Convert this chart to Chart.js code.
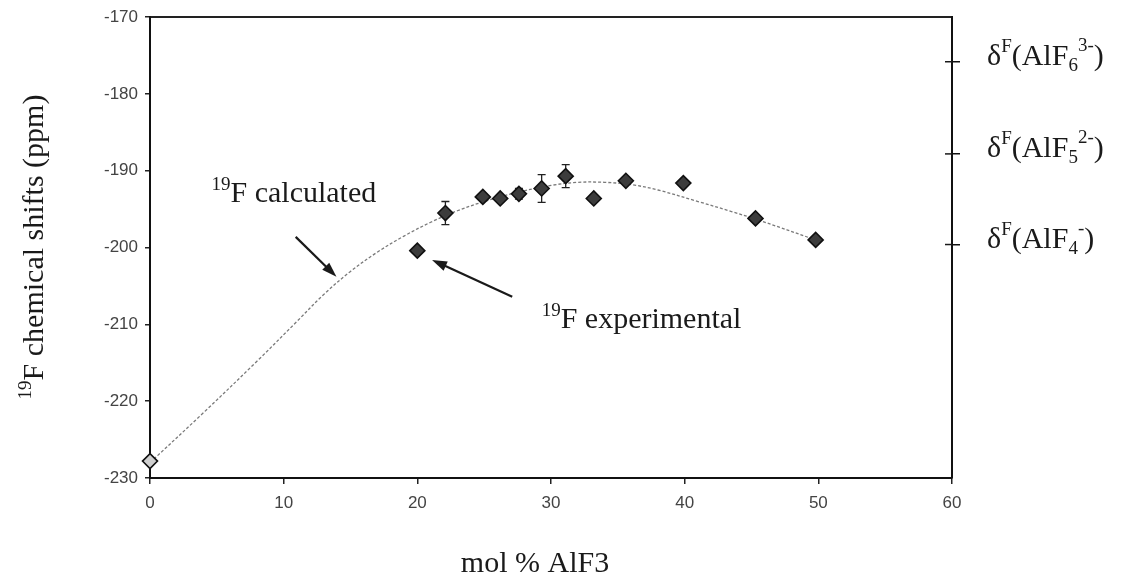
<!DOCTYPE html>
<html>
<head>
<meta charset="utf-8">
<title>19F chemical shifts vs mol % AlF3</title>
<script src="https://cdn.jsdelivr.net/npm/chart.js@4.4.1/dist/chart.umd.min.js"></script>
<style>
  html, body { margin: 0; padding: 0; background: #fff; }
  #wrap { width: 1135px; height: 580px; }
</style>
</head>
<body>
<div id="wrap"><canvas id="shiftChart" width="1135" height="580"></canvas></div>
<script>
// Experimental points (mol % AlF3 -> ppm) and error bar half-heights
const expX = [0, 20, 22.1, 24.9, 26.2, 27.6, 29.3, 31.1, 33.2, 35.6, 39.9, 45.3, 49.8];
const expY = [-227.8, -200.4, -195.5, -193.4, -193.6, -193.0, -192.3, -190.7, -193.6, -191.3, -191.6, -196.2, -199.0];
const expErr = [0, 0, 1.5, 0, 0, 0.7, 1.8, 1.5, 0, 0, 0, 0, 0];

// Calculated curve
const calcX = [0, 4, 8, 11, 13, 15, 17, 19, 21, 23, 25, 27.5, 30, 32, 34, 36, 38, 41, 43.5, 45.5, 49.8];
const calcY = [-228, -221.5, -214.8, -209.6, -206.1, -203.1, -200.6, -198.5, -196.7, -195.2, -194.0, -192.8, -191.9, -191.5, -191.5, -191.8, -192.5, -194.0, -195.3, -196.4, -199.0];

// Axis ticks
const xTicks = [0, 10, 20, 30, 40, 50, 60];
const yTicks = [-230, -220, -210, -200, -190, -180, -170];

// Reference shifts on the right axis
const refShifts = [-175.8, -187.8, -199.6];
const refSub = ['6', '5', '4'];
const refCharge = ['3-', '2-', '-'];

// Annotations (data coordinates)
const calcLabelAt = [4.6, -194.0];
const expLabelAt = [29.3, -210.5];
const calcArrow = [[10.9, -198.6], [13.95, -203.8]];
const expArrow = [[27.1, -206.4], [21.1, -201.6]];

const SERIF = "'Liberation Serif', 'Times New Roman', serif";
const SANS = "'Liberation Sans', Arial, sans-serif";

function toPoints(xs, ys) {
    return xs.map((x, i) => ({ x: x, y: ys[i] }));
}

// Draw text made of pieces with their own size and vertical shift
function richText(ctx, x, y, parts, align) {
    let total = 0;
    parts.forEach(p => {
        ctx.font = p.s + 'px ' + SERIF;
        p.w = ctx.measureText(p.t).width;
        total += p.w;
    });
    let cx = align === 'center' ? x - total / 2 : x;
    ctx.textAlign = 'left';
    ctx.textBaseline = 'alphabetic';
    parts.forEach(p => {
        ctx.font = p.s + 'px ' + SERIF;
        ctx.fillText(p.t, cx, y + (p.dy || 0));
        cx += p.w;
    });
}

function drawArrow(ctx, x1, y1, x2, y2) {
    const ang = Math.atan2(y2 - y1, x2 - x1);
    const head = 15, half = 5;
    const c = Math.cos(ang), s = Math.sin(ang);
    ctx.beginPath();
    ctx.moveTo(x1, y1);
    ctx.lineTo(x2 - head * 0.7 * c, y2 - head * 0.7 * s);
    ctx.stroke();
    ctx.beginPath();
    ctx.moveTo(x2, y2);
    ctx.lineTo(x2 - head * c + half * s, y2 - head * s - half * c);
    ctx.lineTo(x2 - head * c - half * s, y2 - head * s + half * c);
    ctx.closePath();
    ctx.fill();
}

const errorBars = {
    id: 'errorBars',
    beforeDatasetsDraw(chart) {
        const { ctx, scales: { x, y } } = chart;
        ctx.save();
        ctx.strokeStyle = '#222';
        ctx.lineWidth = 1.3;
        expX.forEach((v, i) => {
            if (!expErr[i]) return;
            const px = x.getPixelForValue(v);
            const top = y.getPixelForValue(expY[i] + expErr[i]);
            const bot = y.getPixelForValue(expY[i] - expErr[i]);
            ctx.beginPath();
            ctx.moveTo(px, top); ctx.lineTo(px, bot);
            ctx.moveTo(px - 4, top); ctx.lineTo(px + 4, top);
            ctx.moveTo(px - 4, bot); ctx.lineTo(px + 4, bot);
            ctx.stroke();
        });
        ctx.restore();
    }
};

const decorations = {
    id: 'decorations',
    afterDraw(chart) {
        const { ctx, chartArea, scales: { x, y } } = chart;
        ctx.save();
        ctx.fillStyle = '#1a1a1a';
        ctx.strokeStyle = '#1a1a1a';

        // right axis: inner half of tick marks and labels
        ctx.lineWidth = 1.5;
        refShifts.forEach((v, i) => {
            const py = y.getPixelForValue(v);
            ctx.beginPath();
            ctx.moveTo(chartArea.right - 7, py);
            ctx.lineTo(chartArea.right, py);
            ctx.stroke();
            richText(ctx, chartArea.right + 35, py + 3, [
                { t: '\u03b4', s: 30 },
                { t: 'F', s: 19, dy: -13 },
                { t: '(AlF', s: 30 },
                { t: refSub[i], s: 19, dy: 6 },
                { t: refCharge[i], s: 19, dy: -14 },
                { t: ')', s: 30 }
            ]);
        });

        // y axis title
        ctx.save();
        ctx.translate(43, 247);
        ctx.rotate(-Math.PI / 2);
        richText(ctx, 0, 0, [
            { t: '19', s: 19, dy: -12 },
            { t: 'F chemical shifts (ppm)', s: 30 }
        ], 'center');
        ctx.restore();

        // x axis title
        richText(ctx, (chartArea.left + chartArea.right) / 2 - 16, 572, [
            { t: 'mol % AlF3', s: 30 }
        ], 'center');

        // annotations
        richText(ctx, x.getPixelForValue(calcLabelAt[0]), y.getPixelForValue(calcLabelAt[1]), [
            { t: '19', s: 19, dy: -12 },
            { t: 'F calculated', s: 30 }
        ]);
        richText(ctx, x.getPixelForValue(expLabelAt[0]), y.getPixelForValue(expLabelAt[1]), [
            { t: '19', s: 19, dy: -12 },
            { t: 'F experimental', s: 30 }
        ]);

        ctx.lineWidth = 2.2;
        [calcArrow, expArrow].forEach(a => {
            drawArrow(ctx,
                x.getPixelForValue(a[0][0]), y.getPixelForValue(a[0][1]),
                x.getPixelForValue(a[1][0]), y.getPixelForValue(a[1][1]));
        });
        ctx.restore();
    }
};

const tickFont = { family: SANS, size: 17 };

new Chart(document.getElementById('shiftChart'), {
    type: 'scatter',
    data: {
        datasets: [{
            label: '19F experimental',
            data: toPoints(expX, expY),
            order: 0,
            clip: false,
            pointStyle: 'rectRot',
            pointRadius: 7.5,
            pointBackgroundColor: expX.map((v, i) => i === 0 ? '#cfcfcf' : '#3c3c3c'),
            pointBorderColor: '#111',
            pointBorderWidth: 1.6
        }, {
            label: '19F calculated',
            type: 'line',
            data: toPoints(calcX, calcY),
            order: 1,
            showLine: true,
            pointRadius: 0,
            borderColor: '#7a7a7a',
            borderWidth: 1.3,
            borderDash: [3, 2],
            tension: 0.35,
            fill: false
        }]
    },
    options: {
        responsive: false,
        animation: false,
        devicePixelRatio: 1,
        layout: { padding: 0 },
        plugins: {
            legend: { display: false },
            tooltip: { enabled: false }
        },
        scales: {
            x: {
                type: 'linear',
                position: 'bottom',
                min: 0,
                max: 60,
                afterBuildTicks: s => { s.ticks = xTicks.map(v => ({ value: v })); },
                afterFit: s => { s.height = 102; },
                grid: { drawOnChartArea: false, tickLength: 6, color: '#222', lineWidth: 1.5 },
                border: { color: '#111', width: 2 },
                ticks: { color: '#444', font: tickFont, padding: 9, maxRotation: 0, callback: v => String(v) }
            },
            xTop: {
                type: 'linear',
                position: 'top',
                min: 0,
                max: 60,
                afterFit: s => { s.height = 13; },
                grid: { display: false },
                border: { color: '#222', width: 2 },
                ticks: { display: false }
            },
            y: {
                type: 'linear',
                position: 'left',
                min: -230,
                max: -170,
                afterBuildTicks: s => { s.ticks = yTicks.map(v => ({ value: v })); },
                afterFit: s => { s.width = 150; },
                grid: { drawOnChartArea: false, tickLength: 5, color: '#222', lineWidth: 1.5 },
                border: { color: '#111', width: 2 },
                ticks: { color: '#444', font: tickFont, padding: 7, callback: v => String(v) }
            },
            yRight: {
                type: 'linear',
                position: 'right',
                min: -230,
                max: -170,
                afterBuildTicks: s => { s.ticks = refShifts.map(v => ({ value: v })); },
                afterFit: s => { s.width = 183; },
                grid: { drawOnChartArea: false, tickLength: 8, color: '#111', lineWidth: 1.5 },
                border: { color: '#111', width: 2 },
                ticks: { display: false }
            }
        }
    },
    plugins: [errorBars, decorations]
});
</script>
</body>
</html>
